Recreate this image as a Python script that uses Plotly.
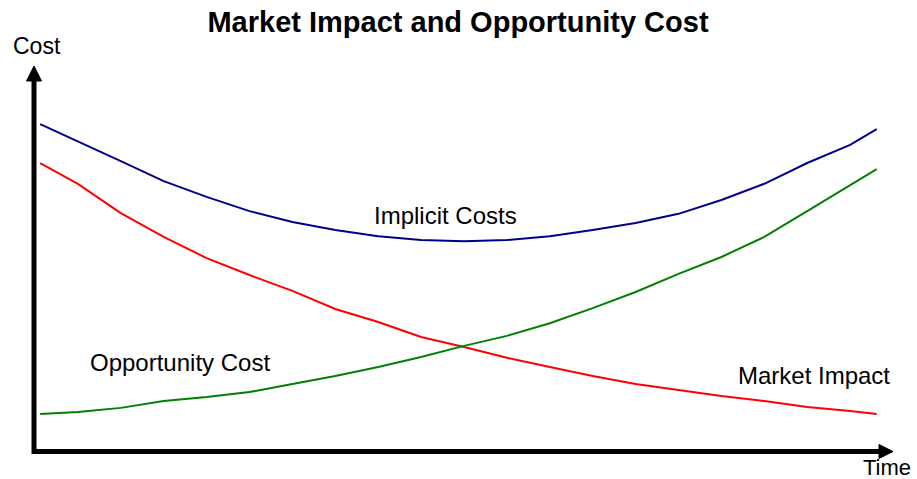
import plotly.graph_objects as go

# Time axis (0-100) and cost values (0-100) for each curve
time = [0.6, 5, 10, 15, 20, 25, 30, 35, 40, 45, 50, 55, 60, 65, 70, 75, 80, 85, 90, 95, 98.1]

implicit_costs = [84.9, 80.5, 75.3, 70.1, 66.0, 62.3, 59.5, 57.4, 55.8, 54.8, 54.5,
                  54.8, 55.8, 57.4, 59.2, 61.6, 65.2, 69.4, 74.8, 79.5, 83.6]
market_impact = [74.8, 69.4, 61.8, 55.6, 50.1, 45.7, 41.6, 36.9, 33.5, 29.6, 27.0,
                 24.2, 21.8, 19.5, 17.4, 15.8, 14.3, 13.0, 11.4, 10.4, 9.6]
opportunity_cost = [9.6, 10.1, 11.2, 13.0, 14.0, 15.3, 17.4, 19.5, 21.8, 24.4, 27.3,
                    29.9, 33.2, 37.1, 41.3, 46.0, 50.4, 55.6, 62.3, 69.1, 73.2]

curve_labels = ["Implicit Costs", "Opportunity Cost", "Market Impact"]
label_pos = [(47.9, 61.3), (16.9, 23.1), (90.8, 19.7)]

W, H = 917, 479
L, R, T, B = 35, 24, 66, 28
plot_w = W - L - R
plot_h = H - T - B
FONT = "Liberation Sans, Arial, sans-serif"


def px_x(px):
    return (px - L) / plot_w


def px_y(py):
    return (H - B - py) / plot_h


fig = go.Figure()
fig.add_trace(go.Scatter(x=time, y=implicit_costs, mode="lines",
                         line=dict(color="#00008B", width=2), name="Implicit Costs"))
fig.add_trace(go.Scatter(x=time, y=market_impact, mode="lines",
                         line=dict(color="#FF0000", width=2), name="Market Impact"))
fig.add_trace(go.Scatter(x=time, y=opportunity_cost, mode="lines",
                         line=dict(color="#008000", width=2), name="Opportunity Cost"))

annotations = []
for text, (tx, cy) in zip(curve_labels, label_pos):
    annotations.append(dict(x=tx, y=cy, xref="x", yref="y", text=text, showarrow=False,
                            font=dict(family=FONT, size=24, color="black"),
                            xanchor="center", yanchor="middle"))

annotations.append(dict(x=px_x(37), y=px_y(46), xref="paper", yref="paper", text="Cost",
                        showarrow=False, font=dict(family=FONT, size=23, color="black"),
                        xanchor="center", yanchor="middle"))
annotations.append(dict(x=px_x(912), y=px_y(467), xref="paper", yref="paper", text="Time",
                        showarrow=False, font=dict(family=FONT, size=22, color="black"),
                        xanchor="right", yanchor="middle", borderpad=0))

shapes = [
    # vertical axis shaft
    dict(type="line", xref="paper", yref="paper",
         x0=px_x(34), x1=px_x(34), y0=px_y(454), y1=px_y(79),
         line=dict(color="black", width=5)),
    # vertical arrowhead
    dict(type="path", xref="paper", yref="paper",
         path=f"M {px_x(34)} {px_y(66)} L {px_x(26.5)} {px_y(81)} L {px_x(41.5)} {px_y(81)} Z",
         fillcolor="black", line=dict(color="black", width=1)),
    # horizontal axis shaft
    dict(type="line", xref="paper", yref="paper",
         x0=px_x(32), x1=px_x(881), y0=px_y(451.5), y1=px_y(451.5),
         line=dict(color="black", width=5)),
    # horizontal arrowhead
    dict(type="path", xref="paper", yref="paper",
         path=f"M {px_x(893)} {px_y(451.5)} L {px_x(879)} {px_y(444.5)} L {px_x(879)} {px_y(458.5)} Z",
         fillcolor="black", line=dict(color="black", width=1)),
]

fig.update_layout(
    width=W, height=H,
    margin=dict(l=L, r=R, t=T, b=B),
    paper_bgcolor="white", plot_bgcolor="white",
    showlegend=False,
    title=dict(text="<b>Market Impact and Opportunity Cost</b>",
               x=458 / W, xanchor="center", y=1 - 22 / H, yanchor="middle",
               font=dict(family=FONT, size=29, color="black")),
    xaxis=dict(range=[0, 100], showgrid=False, zeroline=False, showticklabels=False,
               showline=False, fixedrange=True),
    yaxis=dict(range=[0, 100], showgrid=False, zeroline=False, showticklabels=False,
               showline=False, fixedrange=True),
    annotations=annotations,
    shapes=shapes,
)

fig.write_html("out.html")
